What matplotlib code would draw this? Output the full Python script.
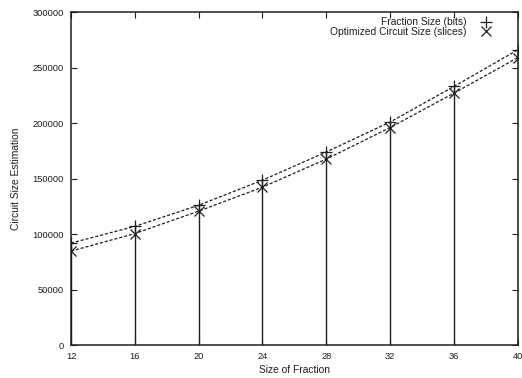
import matplotlib
matplotlib.use("Agg")
import matplotlib.pyplot as plt
from matplotlib.lines import Line2D

plt.rcParams['font.family'] = ['Liberation Sans', 'DejaVu Sans']

fraction_sizes = [12, 16, 20, 24, 28, 32, 36, 40]
fraction_series = [91900, 107000, 126000, 148600, 174000, 201000, 233000, 266000]
optimized_series = [84700, 100500, 120700, 142300, 167600, 196000, 227000, 259000]
x_ticks = [12, 16, 20, 24, 28, 32, 36, 40]
y_ticks = [0, 50000, 100000, 150000, 200000, 250000, 300000]

fig = plt.figure(figsize=(5.22, 3.78), dpi=100)
ax = fig.add_axes([0.136, 0.087, 0.856, 0.881])

col = '#1e1e1e'
ax.vlines(fraction_sizes, 0, fraction_series, colors=col, linewidth=1.0)
ax.plot(fraction_sizes, fraction_series, linestyle=(0, (2.5, 1.5)), color=col,
        linewidth=0.9, marker='+', markersize=8, markeredgewidth=0.9)
ax.plot(fraction_sizes, optimized_series, linestyle=(0, (2.5, 1.5)), color=col,
        linewidth=0.9, marker='x', markersize=7, markeredgewidth=0.9)

ax.set_xlim(12, 40)
ax.set_ylim(0, 300000)
ax.set_xticks(x_ticks)
ax.set_yticks(y_ticks)
ax.tick_params(direction='in', top=True, right=True, labelsize=6.7, length=4,
               width=0.8, colors=col, pad=5)
for s in ax.spines.values():
    s.set_linewidth(1.1)
    s.set_color(col)

ax.set_xlabel('Size of Fraction', fontsize=7.4, color=col, labelpad=3)
ax.set_ylabel('Circuit Size Estimation', fontsize=7.4, color=col, labelpad=6)
ax.yaxis.set_label_coords(-0.112, 0.5)

handles = [Line2D([], [], linestyle='none', marker='+', markersize=8, color=col, markeredgewidth=0.9),
           Line2D([], [], linestyle='none', marker='x', markersize=7, color=col, markeredgewidth=0.9)]
ax.legend(handles, ['Fraction Size (bits)', 'Optimized Circuit Size (slices)'],
          loc='upper right', bbox_to_anchor=(0.955, 1.0), frameon=False, markerfirst=False,
          fontsize=7.4, handlelength=1.2, handletextpad=1.3, labelspacing=-0.05,
          borderaxespad=0.1, labelcolor=col)

fig.savefig('out.png', dpi=100)
